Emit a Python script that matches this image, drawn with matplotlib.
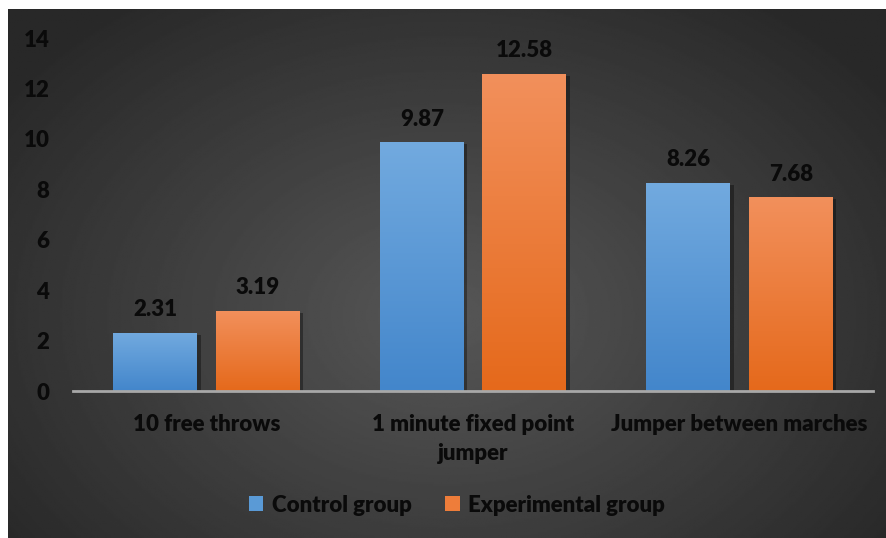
import numpy as np
import matplotlib.pyplot as plt
import matplotlib.patheffects as pe
from matplotlib.colors import LinearSegmentedColormap
from matplotlib.patches import Patch

categories = ["10 free throws", "1 minute fixed point\njumper", "Jumper between marches"]
control = [2.31, 9.87, 8.26]
experimental = [3.19, 12.58, 7.68]
series_names = ["Control group", "Experimental group"]
y_ticks = [0, 2, 4, 6, 8, 10, 12, 14]

plt.rcParams["font.family"] = ["Lato", "DejaVu Sans"]
plt.rcParams["font.weight"] = "heavy"
TEXT = "#0a0a0a"
FS = 16

fig = plt.figure(figsize=(8.87, 5.38), dpi=100)

# dark radial background
bg = fig.add_axes([8 / 887, 0, 879 / 887, 529 / 538], zorder=0)
yy, xx = np.mgrid[0:1:300j, 0:1:500j]
r = np.sqrt(((xx - 0.5) / 0.75) ** 2 + ((yy - 0.58) / 0.9) ** 2)
shade = np.clip(0.34 - 0.22 * r, 0.16, 0.345)
bg.imshow(shade, cmap="gray", vmin=0, vmax=1, aspect="auto",
          extent=[0, 1, 0, 1], origin="upper")
bg.axis("off")

ax = fig.add_axes([73 / 887, 147 / 538, 800 / 887, 353 / 538], zorder=1)
ax.patch.set_alpha(0)

blue_cmap = LinearSegmentedColormap.from_list("b", ["#4386cb", "#72aadf"])
orange_cmap = LinearSegmentedColormap.from_list("o", ["#e5691b", "#f2905c"])

x = np.arange(len(categories))
width = 0.315
offset = 0.192
grad = np.linspace(0, 1, 256).reshape(-1, 1)

for vals, shift, cmap in [(control, -offset, blue_cmap), (experimental, offset, orange_cmap)]:
    bars = ax.bar(x + shift, vals, width, color="none", zorder=2,
                  path_effects=[pe.SimplePatchShadow(offset=(2.5, -1.5), shadow_rgbFace="black", alpha=0.35),
                                pe.Normal()])
    for bar, v in zip(bars, vals):
        x0 = bar.get_x()
        im = ax.imshow(grad, cmap=cmap, aspect="auto", origin="lower",
                       extent=[x0, x0 + bar.get_width(), 0, v], zorder=3)
        im.set_clip_path(bar)
        ax.annotate(f"{v:.2f}", (bar.get_x() + bar.get_width() / 2, v),
                    xytext=(0, 9), textcoords="offset points",
                    ha="center", va="bottom", fontsize=FS, fontweight="heavy", color=TEXT)

ax.set_xlim(-0.5, 2.5)
ax.set_ylim(0, 14)
ax.set_yticks(y_ticks)
ax.set_xticks(x)
ax.set_xticklabels(categories, linespacing=1.5)
ax.tick_params(axis="both", length=0, labelsize=FS, labelcolor=TEXT)
ax.tick_params(axis="y", pad=17)
ax.tick_params(axis="x", pad=16.5)
for s in ["top", "right", "left"]:
    ax.spines[s].set_visible(False)
ax.spines["bottom"].set_color("#a8a8a8")
ax.spines["bottom"].set_linewidth(2)
ax.spines["bottom"].set_zorder(4)

handles = [Patch(facecolor="#5a9ad6"), Patch(facecolor="#ee7d3a")]
fig.legend(handles, series_names, loc="center", bbox_to_anchor=(457 / 887, 1 - 505 / 538),
           ncol=2, frameon=False, fontsize=FS, labelcolor=TEXT,
           handlelength=0.65, handleheight=0.65, handletextpad=0.4, columnspacing=1.5)

fig.savefig("out.png", dpi=100)
